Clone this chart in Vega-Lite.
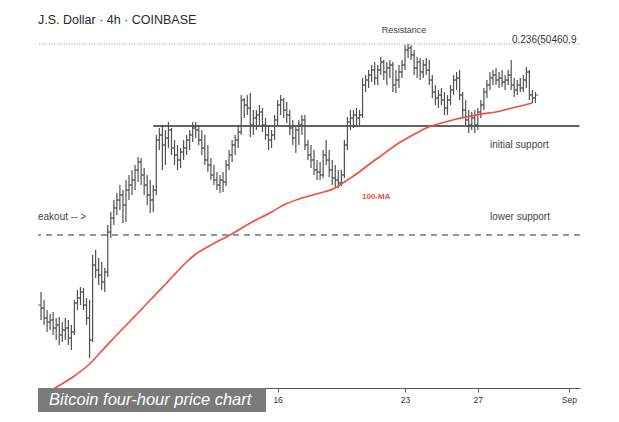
{
"$schema":"https://vega.github.io/schema/vega-lite/v6.json",
"width":542,"height":358,
"autosize":{"type":"none"},
"padding":{"left":38,"right":39,"top":30,"bottom":34},
"background":"white",
"config":{"view":{"stroke":null}},
"title":{"text":"J.S. Dollar · 4h · COINBASE","anchor":"start","frame":"group","offset":0,"font":"Liberation Sans","fontSize":12.5,"fontWeight":"normal","color":"#2a2a2a"},
"datasets":{
"bars":[
{"t":"2021-08-03T00:00","o":42660,"h":43050,"l":42210,"c":42570},
{"t":"2021-08-03T04:00","o":42570,"h":42810,"l":42060,"c":42270},
{"t":"2021-08-03T08:00","o":42270,"h":42510,"l":41850,"c":42150},
{"t":"2021-08-03T12:00","o":42150,"h":42390,"l":41910,"c":42210},
{"t":"2021-08-03T16:00","o":42210,"h":42450,"l":41760,"c":41970},
{"t":"2021-08-03T20:00","o":41970,"h":42270,"l":41610,"c":42060},
{"t":"2021-08-04T00:00","o":42060,"h":42300,"l":41460,"c":41760},
{"t":"2021-08-04T04:00","o":41760,"h":42150,"l":41550,"c":41910},
{"t":"2021-08-04T08:00","o":41910,"h":42270,"l":41610,"c":41970},
{"t":"2021-08-04T12:00","o":41970,"h":42210,"l":41460,"c":41670},
{"t":"2021-08-04T16:00","o":41670,"h":42060,"l":41310,"c":41850},
{"t":"2021-08-04T20:00","o":41850,"h":42810,"l":41760,"c":42720},
{"t":"2021-08-05T00:00","o":42720,"h":43110,"l":42510,"c":42870},
{"t":"2021-08-05T04:00","o":42870,"h":43200,"l":42660,"c":43050},
{"t":"2021-08-05T08:00","o":43050,"h":43170,"l":42510,"c":42660},
{"t":"2021-08-05T12:00","o":42660,"h":42870,"l":42060,"c":42270},
{"t":"2021-08-05T16:00","o":42270,"h":42810,"l":41070,"c":41610},
{"t":"2021-08-05T20:00","o":41610,"h":44160,"l":41550,"c":43860},
{"t":"2021-08-06T00:00","o":43860,"h":44310,"l":43470,"c":43710},
{"t":"2021-08-06T04:00","o":43710,"h":44070,"l":43260,"c":43560},
{"t":"2021-08-06T08:00","o":43560,"h":43950,"l":43110,"c":43350},
{"t":"2021-08-06T12:00","o":43350,"h":43770,"l":43050,"c":43650},
{"t":"2021-08-06T16:00","o":43650,"h":45060,"l":43500,"c":44850},
{"t":"2021-08-06T20:00","o":44850,"h":45450,"l":44670,"c":45270},
{"t":"2021-08-07T00:00","o":45270,"h":45810,"l":45060,"c":45570},
{"t":"2021-08-07T04:00","o":45570,"h":46020,"l":45360,"c":45810},
{"t":"2021-08-07T08:00","o":45810,"h":46260,"l":45510,"c":45960},
{"t":"2021-08-07T12:00","o":45960,"h":46110,"l":45120,"c":45660},
{"t":"2021-08-07T16:00","o":45660,"h":46410,"l":45150,"c":46110},
{"t":"2021-08-07T20:00","o":46110,"h":46560,"l":45810,"c":46260},
{"t":"2021-08-08T00:00","o":46260,"h":46710,"l":45960,"c":46410},
{"t":"2021-08-08T04:00","o":46410,"h":46860,"l":46110,"c":46710},
{"t":"2021-08-08T08:00","o":46710,"h":47100,"l":46350,"c":46950},
{"t":"2021-08-08T12:00","o":46950,"h":47070,"l":46260,"c":46560},
{"t":"2021-08-08T16:00","o":46560,"h":46770,"l":45960,"c":46260},
{"t":"2021-08-08T20:00","o":46260,"h":46560,"l":45660,"c":45960},
{"t":"2021-08-09T00:00","o":45960,"h":46410,"l":45420,"c":45810},
{"t":"2021-08-09T04:00","o":45810,"h":46260,"l":45450,"c":46110},
{"t":"2021-08-09T08:00","o":46110,"h":47760,"l":45960,"c":47610},
{"t":"2021-08-09T12:00","o":47610,"h":47970,"l":47310,"c":47760},
{"t":"2021-08-09T16:00","o":47760,"h":48060,"l":46710,"c":47460},
{"t":"2021-08-09T20:00","o":47460,"h":47910,"l":46860,"c":47670},
{"t":"2021-08-10T00:00","o":47670,"h":48150,"l":47370,"c":47910},
{"t":"2021-08-10T04:00","o":47910,"h":47970,"l":47160,"c":47370},
{"t":"2021-08-10T08:00","o":47370,"h":47610,"l":46860,"c":47160},
{"t":"2021-08-10T12:00","o":47160,"h":47460,"l":46710,"c":47010},
{"t":"2021-08-10T16:00","o":47010,"h":47370,"l":46770,"c":47250},
{"t":"2021-08-10T20:00","o":47250,"h":47610,"l":47010,"c":47370},
{"t":"2021-08-11T00:00","o":47370,"h":47760,"l":47160,"c":47610},
{"t":"2021-08-11T04:00","o":47610,"h":47910,"l":47310,"c":47760},
{"t":"2021-08-11T08:00","o":47760,"h":48150,"l":47550,"c":47970},
{"t":"2021-08-11T12:00","o":47970,"h":48150,"l":47670,"c":47910},
{"t":"2021-08-11T16:00","o":47910,"h":48060,"l":47460,"c":47610},
{"t":"2021-08-11T20:00","o":47610,"h":47910,"l":47160,"c":47370},
{"t":"2021-08-12T00:00","o":47370,"h":47760,"l":46860,"c":47010},
{"t":"2021-08-12T04:00","o":47010,"h":47460,"l":46650,"c":46860},
{"t":"2021-08-12T08:00","o":46860,"h":47070,"l":46410,"c":46560},
{"t":"2021-08-12T12:00","o":46560,"h":46860,"l":46260,"c":46410},
{"t":"2021-08-12T16:00","o":46410,"h":46650,"l":46110,"c":46260},
{"t":"2021-08-12T20:00","o":46260,"h":46560,"l":46020,"c":46410},
{"t":"2021-08-13T00:00","o":46410,"h":46650,"l":46050,"c":46350},
{"t":"2021-08-13T04:00","o":46350,"h":47010,"l":46230,"c":46860},
{"t":"2021-08-13T08:00","o":46860,"h":47310,"l":46710,"c":47160},
{"t":"2021-08-13T12:00","o":47160,"h":47610,"l":46950,"c":47460},
{"t":"2021-08-13T16:00","o":47460,"h":47760,"l":47160,"c":47610},
{"t":"2021-08-13T20:00","o":47610,"h":48060,"l":47370,"c":47850},
{"t":"2021-08-14T00:00","o":47850,"h":48960,"l":47760,"c":48810},
{"t":"2021-08-14T04:00","o":48810,"h":48870,"l":48270,"c":48660},
{"t":"2021-08-14T08:00","o":48660,"h":48960,"l":48360,"c":48570},
{"t":"2021-08-14T12:00","o":48570,"h":49020,"l":47700,"c":48060},
{"t":"2021-08-14T16:00","o":48060,"h":48510,"l":47760,"c":48270},
{"t":"2021-08-14T20:00","o":48270,"h":48510,"l":47910,"c":48360},
{"t":"2021-08-15T00:00","o":48360,"h":48660,"l":48060,"c":48450},
{"t":"2021-08-15T04:00","o":48450,"h":48570,"l":47850,"c":48060},
{"t":"2021-08-15T08:00","o":48060,"h":48270,"l":47610,"c":47760},
{"t":"2021-08-15T12:00","o":47760,"h":48060,"l":47310,"c":47610},
{"t":"2021-08-15T16:00","o":47610,"h":47910,"l":47370,"c":47760},
{"t":"2021-08-15T20:00","o":47760,"h":48360,"l":47610,"c":48210},
{"t":"2021-08-16T00:00","o":48210,"h":48810,"l":48060,"c":48660},
{"t":"2021-08-16T04:00","o":48660,"h":48960,"l":48360,"c":48810},
{"t":"2021-08-16T08:00","o":48810,"h":48870,"l":48270,"c":48510},
{"t":"2021-08-16T12:00","o":48510,"h":48750,"l":48120,"c":48360},
{"t":"2021-08-16T16:00","o":48360,"h":48510,"l":47760,"c":47970},
{"t":"2021-08-16T20:00","o":47970,"h":48210,"l":47460,"c":47670},
{"t":"2021-08-17T00:00","o":47670,"h":48060,"l":47220,"c":47910},
{"t":"2021-08-17T04:00","o":47910,"h":48210,"l":47460,"c":48060},
{"t":"2021-08-17T08:00","o":48060,"h":48360,"l":47760,"c":48210},
{"t":"2021-08-17T12:00","o":48210,"h":48360,"l":47310,"c":47460},
{"t":"2021-08-17T16:00","o":47460,"h":47610,"l":47010,"c":47160},
{"t":"2021-08-17T20:00","o":47160,"h":47460,"l":46770,"c":47010},
{"t":"2021-08-18T00:00","o":47010,"h":47310,"l":46560,"c":46710},
{"t":"2021-08-18T04:00","o":46710,"h":47010,"l":46410,"c":46650},
{"t":"2021-08-18T08:00","o":46650,"h":46950,"l":46410,"c":46560},
{"t":"2021-08-18T12:00","o":46560,"h":47310,"l":46470,"c":47160},
{"t":"2021-08-18T16:00","o":47160,"h":47610,"l":46860,"c":47010},
{"t":"2021-08-18T20:00","o":47010,"h":47310,"l":46500,"c":46710},
{"t":"2021-08-19T00:00","o":46710,"h":47010,"l":46260,"c":46470},
{"t":"2021-08-19T04:00","o":46470,"h":46860,"l":46200,"c":46410},
{"t":"2021-08-19T08:00","o":46410,"h":46710,"l":46170,"c":46320},
{"t":"2021-08-19T12:00","o":46320,"h":46710,"l":46230,"c":46560},
{"t":"2021-08-19T16:00","o":46560,"h":47610,"l":46470,"c":47460},
{"t":"2021-08-19T20:00","o":47460,"h":48300,"l":47310,"c":48150},
{"t":"2021-08-20T00:00","o":48150,"h":48510,"l":47910,"c":48270},
{"t":"2021-08-20T04:00","o":48270,"h":48510,"l":47970,"c":48360},
{"t":"2021-08-20T08:00","o":48360,"h":48570,"l":48060,"c":48270},
{"t":"2021-08-20T12:00","o":48270,"h":48510,"l":48060,"c":48360},
{"t":"2021-08-20T16:00","o":48360,"h":49470,"l":48270,"c":49260},
{"t":"2021-08-20T20:00","o":49260,"h":49560,"l":49050,"c":49410},
{"t":"2021-08-21T00:00","o":49410,"h":49710,"l":49170,"c":49560},
{"t":"2021-08-21T04:00","o":49560,"h":49860,"l":49350,"c":49710},
{"t":"2021-08-21T08:00","o":49710,"h":49950,"l":49260,"c":49470},
{"t":"2021-08-21T12:00","o":49470,"h":49860,"l":49260,"c":49710},
{"t":"2021-08-21T16:00","o":49710,"h":50100,"l":49560,"c":49950},
{"t":"2021-08-21T20:00","o":49950,"h":50010,"l":49410,"c":49650},
{"t":"2021-08-22T00:00","o":49650,"h":49950,"l":49260,"c":49770},
{"t":"2021-08-22T04:00","o":49770,"h":50010,"l":49470,"c":49860},
{"t":"2021-08-22T08:00","o":49860,"h":49950,"l":49050,"c":49260},
{"t":"2021-08-22T12:00","o":49260,"h":49710,"l":49020,"c":49410},
{"t":"2021-08-22T16:00","o":49410,"h":49860,"l":49170,"c":49650},
{"t":"2021-08-22T20:00","o":49650,"h":50010,"l":49470,"c":49860},
{"t":"2021-08-23T00:00","o":49860,"h":50460,"l":49710,"c":50310},
{"t":"2021-08-23T04:00","o":50310,"h":50490,"l":50070,"c":50370},
{"t":"2021-08-23T08:00","o":50370,"h":50460,"l":50010,"c":50160},
{"t":"2021-08-23T12:00","o":50160,"h":50310,"l":49560,"c":49770},
{"t":"2021-08-23T16:00","o":49770,"h":50100,"l":49470,"c":49950},
{"t":"2021-08-23T20:00","o":49950,"h":50070,"l":49410,"c":49650},
{"t":"2021-08-24T00:00","o":49650,"h":50010,"l":49470,"c":49860},
{"t":"2021-08-24T04:00","o":49860,"h":50070,"l":49560,"c":49710},
{"t":"2021-08-24T08:00","o":49710,"h":50010,"l":49260,"c":49410},
{"t":"2021-08-24T12:00","o":49410,"h":49560,"l":48870,"c":49050},
{"t":"2021-08-24T16:00","o":49050,"h":49260,"l":48660,"c":48870},
{"t":"2021-08-24T20:00","o":48870,"h":49110,"l":48570,"c":48960},
{"t":"2021-08-25T00:00","o":48960,"h":49170,"l":48660,"c":48810},
{"t":"2021-08-25T04:00","o":48810,"h":49050,"l":48360,"c":48570},
{"t":"2021-08-25T08:00","o":48570,"h":48960,"l":48360,"c":48810},
{"t":"2021-08-25T12:00","o":48810,"h":49260,"l":48660,"c":49110},
{"t":"2021-08-25T16:00","o":49110,"h":49560,"l":48960,"c":49410},
{"t":"2021-08-25T20:00","o":49410,"h":49650,"l":49110,"c":49470},
{"t":"2021-08-26T00:00","o":49470,"h":49710,"l":48810,"c":48960},
{"t":"2021-08-26T04:00","o":48960,"h":49050,"l":48270,"c":48510},
{"t":"2021-08-26T08:00","o":48510,"h":48810,"l":48060,"c":48210},
{"t":"2021-08-26T12:00","o":48210,"h":48510,"l":47820,"c":48060},
{"t":"2021-08-26T16:00","o":48060,"h":48450,"l":47910,"c":48270},
{"t":"2021-08-26T20:00","o":48270,"h":48510,"l":47820,"c":48060},
{"t":"2021-08-27T00:00","o":48060,"h":48570,"l":47910,"c":48450},
{"t":"2021-08-27T04:00","o":48450,"h":48810,"l":48270,"c":48660},
{"t":"2021-08-27T08:00","o":48660,"h":49170,"l":48510,"c":49050},
{"t":"2021-08-27T12:00","o":49050,"h":49410,"l":48870,"c":49260},
{"t":"2021-08-27T16:00","o":49260,"h":49650,"l":49110,"c":49470},
{"t":"2021-08-27T20:00","o":49470,"h":49710,"l":49260,"c":49560},
{"t":"2021-08-28T00:00","o":49560,"h":49770,"l":49260,"c":49410},
{"t":"2021-08-28T04:00","o":49410,"h":49650,"l":49170,"c":49470},
{"t":"2021-08-28T08:00","o":49470,"h":49710,"l":49200,"c":49350},
{"t":"2021-08-28T12:00","o":49350,"h":49560,"l":49110,"c":49410},
{"t":"2021-08-28T16:00","o":49410,"h":49710,"l":49260,"c":49560},
{"t":"2021-08-28T20:00","o":49560,"h":50010,"l":49110,"c":49260},
{"t":"2021-08-29T00:00","o":49260,"h":49470,"l":48900,"c":49110},
{"t":"2021-08-29T04:00","o":49110,"h":49410,"l":48960,"c":49260},
{"t":"2021-08-29T08:00","o":49260,"h":49470,"l":49050,"c":49170},
{"t":"2021-08-29T12:00","o":49170,"h":49560,"l":49050,"c":49410},
{"t":"2021-08-29T16:00","o":49410,"h":49800,"l":49170,"c":49650},
{"t":"2021-08-29T20:00","o":49650,"h":49710,"l":48810,"c":48960},
{"t":"2021-08-30T00:00","o":48960,"h":49110,"l":48720,"c":48870},
{"t":"2021-08-30T04:00","o":48870,"h":49050,"l":48720,"c":48960}
],
"ma":[
{"t":"2021-08-03T16:00","v":40140},
{"t":"2021-08-04T16:00","v":40470},
{"t":"2021-08-05T16:00","v":40890},
{"t":"2021-08-06T08:00","v":41280},
{"t":"2021-08-07T00:00","v":41670},
{"t":"2021-08-08T04:00","v":42330},
{"t":"2021-08-09T00:00","v":42810},
{"t":"2021-08-10T00:00","v":43380},
{"t":"2021-08-11T00:00","v":43950},
{"t":"2021-08-11T12:00","v":44190},
{"t":"2021-08-12T08:00","v":44460},
{"t":"2021-08-13T08:00","v":44745},
{"t":"2021-08-14T12:00","v":45120},
{"t":"2021-08-15T16:00","v":45450},
{"t":"2021-08-16T08:00","v":45660},
{"t":"2021-08-17T04:00","v":45840},
{"t":"2021-08-18T08:00","v":46020},
{"t":"2021-08-19T04:00","v":46170},
{"t":"2021-08-19T16:00","v":46350},
{"t":"2021-08-20T08:00","v":46590},
{"t":"2021-08-20T20:00","v":46800},
{"t":"2021-08-21T16:00","v":47130},
{"t":"2021-08-22T16:00","v":47520},
{"t":"2021-08-23T08:00","v":47730},
{"t":"2021-08-24T04:00","v":47970},
{"t":"2021-08-25T00:00","v":48120},
{"t":"2021-08-25T20:00","v":48240},
{"t":"2021-08-26T12:00","v":48315},
{"t":"2021-08-27T04:00","v":48390},
{"t":"2021-08-28T00:00","v":48450},
{"t":"2021-08-28T16:00","v":48540},
{"t":"2021-08-29T08:00","v":48630},
{"t":"2021-08-30T00:00","v":48720}
]
},
"layer":[
{"data":{"values":[{"p":50490}]},"mark":{"type":"rule","color":"#9c9c9c","strokeWidth":1,"strokeDash":[1,1.5]},
 "encoding":{"y":{"field":"p","type":"quantitative","scale":{"domain":[40170,50910],"zero":false,"nice":false},"axis":null}}},
{"data":{"values":[{"p":44760}]},"mark":{"type":"rule","color":"#777777","strokeWidth":1.5,"strokeDash":[6,5]},
 "encoding":{"y":{"field":"p","type":"quantitative"}}},
{"data":{"values":[{"t":"2021-08-09T04:00","t2":"2021-09-01T14:00","p":48030}]},"mark":{"type":"rule","color":"#2e2e2e","strokeWidth":1.5},
 "encoding":{"x":{"field":"t","type":"temporal"},"x2":{"field":"t2"},"y":{"field":"p","type":"quantitative"}}},
{"data":{"name":"bars"},"mark":{"type":"rule","color":"#505050","strokeWidth":1.2},
 "encoding":{
  "x":{"field":"t","type":"temporal","scale":{"domain":[{"year":2021,"month":8,"date":2,"hours":20},{"year":2021,"month":9,"date":1,"hours":14,"minutes":45}]},
   "axis":{"title":null,"grid":false,"values":[{"year":2021,"month":8,"date":5},{"year":2021,"month":8,"date":9},{"year":2021,"month":8,"date":16},{"year":2021,"month":8,"date":23},{"year":2021,"month":8,"date":27},{"year":2021,"month":9,"date":1}],
    "labelExpr":"month(datum.value) == 8 ? 'Sep' : (date(datum.value) < 10 ? '' : '' + date(datum.value))",
    "domainColor":"#555555","tickColor":"#555555","tickSize":4,"labelFont":"Liberation Sans","labelFontSize":8.5,"labelColor":"#333333","labelPadding":3,"labelFlush":false,"labelOverlap":false}},
  "y":{"field":"h","type":"quantitative"},"y2":{"field":"l"}}},
{"data":{"name":"bars"},"mark":{"type":"tick","orient":"horizontal","color":"#505050","size":3,"thickness":1.2,"xOffset":-1.5},
 "encoding":{"x":{"field":"t","type":"temporal"},"y":{"field":"o","type":"quantitative"}}},
{"data":{"name":"bars"},"mark":{"type":"tick","orient":"horizontal","color":"#505050","size":3,"thickness":1.2,"xOffset":1.5},
 "encoding":{"x":{"field":"t","type":"temporal"},"y":{"field":"c","type":"quantitative"}}},
{"data":{"name":"ma"},"mark":{"type":"line","color":"#f0503c","strokeWidth":1.7,"interpolate":"monotone"},
 "encoding":{"x":{"field":"t","type":"temporal"},"y":{"field":"v","type":"quantitative"}}},
{"data":{"values":[{"label":"initial support","t":"2021-08-27T16:00","p":47460},{"label":"lower support","t":"2021-08-27T16:00","p":45300},{"label":"eakout -- >","t":"2021-08-02T20:00","p":45300}]},
 "mark":{"type":"text","align":"left","baseline":"middle","font":"Liberation Sans","fontSize":10,"color":"#444444"},
 "encoding":{"x":{"field":"t","type":"temporal"},"y":{"field":"p","type":"quantitative"},"text":{"field":"label"}}},
{"data":{"values":[{"label":"Resistance","t":"2021-08-22T22:40","p":50910}]},
 "mark":{"type":"text","align":"center","baseline":"middle","font":"Liberation Sans","fontSize":9,"color":"#444444"},
 "encoding":{"x":{"field":"t","type":"temporal"},"y":{"field":"p","type":"quantitative"},"text":{"field":"label"}}},
{"data":{"values":[{"label":"0.236(50460.9","t":"2021-08-28T21:00","p":50610}]},
 "mark":{"type":"text","align":"left","baseline":"middle","font":"Liberation Sans","fontSize":10,"color":"#333333"},
 "encoding":{"x":{"field":"t","type":"temporal"},"y":{"field":"p","type":"quantitative"},"text":{"field":"label"}}},
{"data":{"values":[{"label":"100-MA","t":"2021-08-20T15:15","p":45900}]},
 "mark":{"type":"text","align":"left","baseline":"middle","font":"Liberation Sans","fontSize":8,"fontWeight":"bold","color":"#f0503c"},
 "encoding":{"x":{"field":"t","type":"temporal"},"y":{"field":"p","type":"quantitative"},"text":{"field":"label"}}},
{"data":{"values":[{"t":"2021-08-02T20:00","t2":"2021-08-15T08:40","p":40170,"p2":39450}]},
 "mark":{"type":"rect","color":"#7a7a7a"},
 "encoding":{"x":{"field":"t","type":"temporal"},"x2":{"field":"t2"},"y":{"field":"p","type":"quantitative"},"y2":{"field":"p2"}}},
{"data":{"values":[{"label":"Bitcoin four-hour price chart","t":"2021-08-03T10:30","p":39810}]},
 "mark":{"type":"text","align":"left","baseline":"middle","font":"Liberation Sans","fontSize":16.5,"fontStyle":"italic","color":"#ffffff"},
 "encoding":{"x":{"field":"t","type":"temporal"},"y":{"field":"p","type":"quantitative"},"text":{"field":"label"}}}
]
}
